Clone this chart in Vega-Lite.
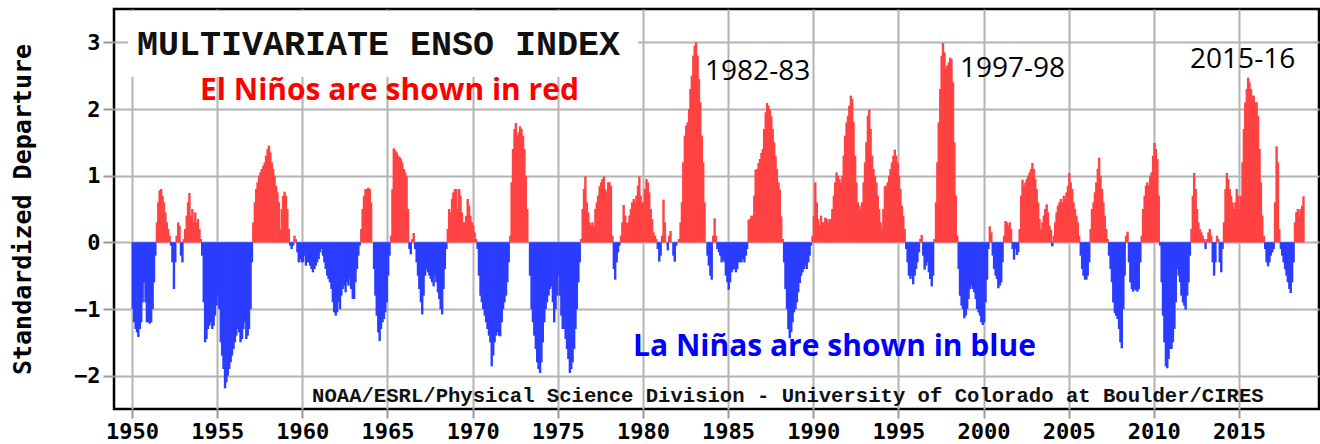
{
"$schema": "https://vega.github.io/schema/vega-lite/v6.json",
"width": 1205, "height": 400,
"autosize": {"type": "none"},
"padding": {"left": 114, "top": 9, "right": 1, "bottom": 35},
"background": "white",
"config": {
 "view": {"stroke": "#000", "strokeWidth": 2.5},
 "axis": {"gridColor": "#b3b3b3", "gridWidth": 2, "gridOpacity": 1, "tickColor": "#999", "tickWidth": 2, "domain": false, "labelFont": "DejaVu Sans Mono", "labelFontWeight": "bold", "labelColor": "#000"}
},
"layer": [
 {
  "data": {"values": [{}]},
  "mark": {"type": "rect", "color": "white"},
  "encoding": {"x": {"datum": 1949.77}, "x2": {"datum": 1979.71}, "y": {"datum": 2.48}, "y2": {"datum": 3.47}}
 },
 {
  "data": {"values": [
{"t":1950.04,"v":-1.0},{"t":1950.12,"v":-1.2},{"t":1950.21,"v":-1.3},{"t":1950.29,"v":-1.35},{"t":1950.37,"v":-1.42},{"t":1950.46,"v":-1.3},{"t":1950.54,"v":-1.2},{"t":1950.62,"v":-0.9},{"t":1950.71,"v":-0.6},{"t":1950.79,"v":-0.9},{"t":1950.87,"v":-1.2},{"t":1950.96,"v":-1.2},
{"t":1951.04,"v":-1.22},{"t":1951.12,"v":-1.2},{"t":1951.21,"v":-1.0},{"t":1951.29,"v":-0.6},{"t":1951.37,"v":-0.2},{"t":1951.46,"v":0.3},{"t":1951.54,"v":0.6},{"t":1951.62,"v":0.78},{"t":1951.71,"v":0.8},{"t":1951.79,"v":0.7},{"t":1951.87,"v":0.6},{"t":1951.96,"v":0.45},
{"t":1952.04,"v":0.3},{"t":1952.12,"v":0.2},{"t":1952.21,"v":0.1},{"t":1952.29,"v":-0.05},{"t":1952.37,"v":-0.3},{"t":1952.46,"v":-0.7},{"t":1952.54,"v":-0.3},{"t":1952.62,"v":0.1},{"t":1952.71,"v":0.3},{"t":1952.79,"v":0.25},{"t":1952.87,"v":-0.2},{"t":1952.96,"v":-0.3},
{"t":1953.04,"v":0.05},{"t":1953.12,"v":0.2},{"t":1953.21,"v":0.4},{"t":1953.29,"v":0.6},{"t":1953.37,"v":0.74},{"t":1953.46,"v":0.4},{"t":1953.54,"v":0.5},{"t":1953.62,"v":0.3},{"t":1953.71,"v":0.45},{"t":1953.79,"v":0.3},{"t":1953.87,"v":0.35},{"t":1953.96,"v":0.2},
{"t":1954.04,"v":0.05},{"t":1954.12,"v":-0.2},{"t":1954.21,"v":-0.9},{"t":1954.29,"v":-1.5},{"t":1954.37,"v":-1.45},{"t":1954.46,"v":-1.3},{"t":1954.54,"v":-1.25},{"t":1954.62,"v":-1.2},{"t":1954.71,"v":-1.3},{"t":1954.79,"v":-1.25},{"t":1954.87,"v":-1.1},{"t":1954.96,"v":-0.95},
{"t":1955.04,"v":-0.8},{"t":1955.12,"v":-1.0},{"t":1955.21,"v":-1.5},{"t":1955.29,"v":-1.7},{"t":1955.37,"v":-1.9},{"t":1955.46,"v":-2.19},{"t":1955.54,"v":-2.1},{"t":1955.62,"v":-2.0},{"t":1955.71,"v":-1.9},{"t":1955.79,"v":-1.8},{"t":1955.87,"v":-1.7},{"t":1955.96,"v":-1.6},
{"t":1956.04,"v":-1.5},{"t":1956.12,"v":-1.4},{"t":1956.21,"v":-1.3},{"t":1956.29,"v":-1.35},{"t":1956.37,"v":-1.5},{"t":1956.46,"v":-1.45},{"t":1956.54,"v":-1.3},{"t":1956.62,"v":-1.2},{"t":1956.71,"v":-1.45},{"t":1956.79,"v":-1.4},{"t":1956.87,"v":-1.3},{"t":1956.96,"v":-1.0},
{"t":1957.04,"v":-0.3},{"t":1957.12,"v":0.3},{"t":1957.21,"v":0.6},{"t":1957.29,"v":0.8},{"t":1957.37,"v":0.9},{"t":1957.46,"v":1.0},{"t":1957.54,"v":1.05},{"t":1957.62,"v":1.1},{"t":1957.71,"v":1.15},{"t":1957.79,"v":1.2},{"t":1957.87,"v":1.3},{"t":1957.96,"v":1.4},
{"t":1958.04,"v":1.45},{"t":1958.12,"v":1.35},{"t":1958.21,"v":1.2},{"t":1958.29,"v":1.1},{"t":1958.37,"v":1.0},{"t":1958.46,"v":0.85},{"t":1958.54,"v":0.75},{"t":1958.62,"v":0.6},{"t":1958.71,"v":0.2},{"t":1958.79,"v":0.5},{"t":1958.87,"v":0.7},{"t":1958.96,"v":0.76},
{"t":1959.04,"v":0.7},{"t":1959.12,"v":0.5},{"t":1959.21,"v":0.2},{"t":1959.29,"v":-0.05},{"t":1959.37,"v":-0.1},{"t":1959.46,"v":-0.05},{"t":1959.54,"v":0.1},{"t":1959.62,"v":0.05},{"t":1959.71,"v":-0.15},{"t":1959.79,"v":-0.3},{"t":1959.87,"v":-0.25},{"t":1959.96,"v":-0.3},
{"t":1960.04,"v":-0.3},{"t":1960.12,"v":-0.2},{"t":1960.21,"v":-0.35},{"t":1960.29,"v":-0.3},{"t":1960.37,"v":-0.3},{"t":1960.46,"v":-0.35},{"t":1960.54,"v":-0.4},{"t":1960.62,"v":-0.45},{"t":1960.71,"v":-0.4},{"t":1960.79,"v":-0.35},{"t":1960.87,"v":-0.3},{"t":1960.96,"v":-0.25},
{"t":1961.04,"v":-0.15},{"t":1961.12,"v":-0.1},{"t":1961.21,"v":-0.2},{"t":1961.29,"v":-0.3},{"t":1961.37,"v":-0.4},{"t":1961.46,"v":-0.5},{"t":1961.54,"v":-0.55},{"t":1961.62,"v":-0.6},{"t":1961.71,"v":-0.7},{"t":1961.79,"v":-0.9},{"t":1961.87,"v":-1.05},{"t":1961.96,"v":-1.1},
{"t":1962.04,"v":-1.05},{"t":1962.12,"v":-0.9},{"t":1962.21,"v":-1.0},{"t":1962.29,"v":-0.8},{"t":1962.37,"v":-0.7},{"t":1962.46,"v":-0.65},{"t":1962.54,"v":-0.75},{"t":1962.62,"v":-0.6},{"t":1962.71,"v":-0.65},{"t":1962.79,"v":-0.55},{"t":1962.87,"v":-0.7},{"t":1962.96,"v":-0.85},
{"t":1963.04,"v":-0.85},{"t":1963.12,"v":-0.6},{"t":1963.21,"v":-0.4},{"t":1963.29,"v":-0.2},{"t":1963.37,"v":-0.05},{"t":1963.46,"v":0.2},{"t":1963.54,"v":0.5},{"t":1963.62,"v":0.7},{"t":1963.71,"v":0.8},{"t":1963.79,"v":0.8},{"t":1963.87,"v":0.82},{"t":1963.96,"v":0.8},
{"t":1964.04,"v":0.6},{"t":1964.12,"v":0.0},{"t":1964.21,"v":-0.4},{"t":1964.29,"v":-0.8},{"t":1964.37,"v":-1.1},{"t":1964.46,"v":-1.35},{"t":1964.54,"v":-1.48},{"t":1964.62,"v":-1.3},{"t":1964.71,"v":-1.2},{"t":1964.79,"v":-1.15},{"t":1964.87,"v":-1.05},{"t":1964.96,"v":-0.9},
{"t":1965.04,"v":-0.5},{"t":1965.12,"v":-0.2},{"t":1965.21,"v":0.1},{"t":1965.29,"v":0.8},{"t":1965.37,"v":1.41},{"t":1965.46,"v":1.38},{"t":1965.54,"v":1.35},{"t":1965.62,"v":1.3},{"t":1965.71,"v":1.28},{"t":1965.79,"v":1.25},{"t":1965.87,"v":1.2},{"t":1965.96,"v":1.1},
{"t":1966.04,"v":1.05},{"t":1966.12,"v":1.0},{"t":1966.21,"v":0.5},{"t":1966.29,"v":-0.1},{"t":1966.37,"v":-0.18},{"t":1966.46,"v":0.05},{"t":1966.54,"v":0.14},{"t":1966.62,"v":-0.1},{"t":1966.71,"v":-0.3},{"t":1966.79,"v":-0.5},{"t":1966.87,"v":-0.7},{"t":1966.96,"v":-0.9},
{"t":1967.04,"v":-1.08},{"t":1967.12,"v":-0.8},{"t":1967.21,"v":-0.5},{"t":1967.29,"v":-0.4},{"t":1967.37,"v":-0.45},{"t":1967.46,"v":-0.5},{"t":1967.54,"v":-0.55},{"t":1967.62,"v":-0.6},{"t":1967.71,"v":-0.66},{"t":1967.79,"v":-0.5},{"t":1967.87,"v":-0.6},{"t":1967.96,"v":-0.75},
{"t":1968.04,"v":-0.85},{"t":1968.12,"v":-1.0},{"t":1968.21,"v":-1.08},{"t":1968.29,"v":-0.7},{"t":1968.37,"v":-0.4},{"t":1968.46,"v":-0.1},{"t":1968.54,"v":0.2},{"t":1968.62,"v":0.5},{"t":1968.71,"v":0.45},{"t":1968.79,"v":0.65},{"t":1968.87,"v":0.75},{"t":1968.96,"v":0.8},
{"t":1969.04,"v":0.8},{"t":1969.12,"v":0.5},{"t":1969.21,"v":0.8},{"t":1969.29,"v":0.7},{"t":1969.37,"v":0.45},{"t":1969.46,"v":0.3},{"t":1969.54,"v":0.3},{"t":1969.62,"v":0.4},{"t":1969.71,"v":0.65},{"t":1969.79,"v":0.55},{"t":1969.87,"v":0.4},{"t":1969.96,"v":0.3},
{"t":1970.04,"v":0.25},{"t":1970.12,"v":0.15},{"t":1970.21,"v":0.05},{"t":1970.29,"v":-0.1},{"t":1970.37,"v":-0.5},{"t":1970.46,"v":-0.8},{"t":1970.54,"v":-0.9},{"t":1970.62,"v":-1.0},{"t":1970.71,"v":-1.1},{"t":1970.79,"v":-1.2},{"t":1970.87,"v":-1.3},{"t":1970.96,"v":-1.4},
{"t":1971.04,"v":-1.5},{"t":1971.12,"v":-1.86},{"t":1971.21,"v":-1.7},{"t":1971.29,"v":-1.5},{"t":1971.37,"v":-1.4},{"t":1971.46,"v":-1.35},{"t":1971.54,"v":-1.4},{"t":1971.62,"v":-1.41},{"t":1971.71,"v":-1.2},{"t":1971.79,"v":-1.0},{"t":1971.87,"v":-0.9},{"t":1971.96,"v":-0.8},
{"t":1972.04,"v":-0.6},{"t":1972.12,"v":-0.3},{"t":1972.21,"v":0.1},{"t":1972.29,"v":0.9},{"t":1972.37,"v":1.4},{"t":1972.46,"v":1.7},{"t":1972.54,"v":1.79},{"t":1972.62,"v":1.6},{"t":1972.71,"v":1.65},{"t":1972.79,"v":1.74},{"t":1972.87,"v":1.7},{"t":1972.96,"v":1.6},
{"t":1973.04,"v":1.4},{"t":1973.12,"v":1.0},{"t":1973.21,"v":0.5},{"t":1973.29,"v":0.0},{"t":1973.37,"v":-0.5},{"t":1973.46,"v":-1.0},{"t":1973.54,"v":-1.2},{"t":1973.62,"v":-1.4},{"t":1973.71,"v":-1.6},{"t":1973.79,"v":-1.8},{"t":1973.87,"v":-1.9},{"t":1973.96,"v":-1.96},
{"t":1974.04,"v":-1.8},{"t":1974.12,"v":-1.5},{"t":1974.21,"v":-1.2},{"t":1974.29,"v":-1.0},{"t":1974.37,"v":-0.9},{"t":1974.46,"v":-0.8},{"t":1974.54,"v":-0.7},{"t":1974.62,"v":-0.66},{"t":1974.71,"v":-0.9},{"t":1974.79,"v":-1.2},{"t":1974.87,"v":-1.0},{"t":1974.96,"v":-0.8},
{"t":1975.04,"v":-0.5},{"t":1975.12,"v":-0.8},{"t":1975.21,"v":-1.1},{"t":1975.29,"v":-1.3},{"t":1975.37,"v":-1.3},{"t":1975.46,"v":-1.45},{"t":1975.54,"v":-1.6},{"t":1975.62,"v":-1.75},{"t":1975.71,"v":-1.96},{"t":1975.79,"v":-1.9},{"t":1975.87,"v":-1.8},{"t":1975.96,"v":-1.6},
{"t":1976.04,"v":-1.3},{"t":1976.12,"v":-1.0},{"t":1976.21,"v":-0.6},{"t":1976.29,"v":-0.3},{"t":1976.37,"v":0.05},{"t":1976.46,"v":0.5},{"t":1976.54,"v":0.8},{"t":1976.62,"v":0.99},{"t":1976.71,"v":0.6},{"t":1976.79,"v":0.45},{"t":1976.87,"v":0.3},{"t":1976.96,"v":0.25},
{"t":1977.04,"v":0.3},{"t":1977.12,"v":0.24},{"t":1977.21,"v":0.5},{"t":1977.29,"v":0.6},{"t":1977.37,"v":0.7},{"t":1977.46,"v":0.84},{"t":1977.54,"v":0.9},{"t":1977.62,"v":0.95},{"t":1977.71,"v":0.99},{"t":1977.79,"v":0.8},{"t":1977.87,"v":0.75},{"t":1977.96,"v":0.9},
{"t":1978.04,"v":0.9},{"t":1978.12,"v":0.85},{"t":1978.21,"v":0.1},{"t":1978.29,"v":-0.4},{"t":1978.37,"v":-0.56},{"t":1978.46,"v":-0.3},{"t":1978.54,"v":-0.15},{"t":1978.62,"v":-0.05},{"t":1978.71,"v":0.1},{"t":1978.79,"v":0.3},{"t":1978.87,"v":0.56},{"t":1978.96,"v":0.4},
{"t":1979.04,"v":0.29},{"t":1979.12,"v":0.3},{"t":1979.21,"v":0.4},{"t":1979.29,"v":0.5},{"t":1979.37,"v":0.6},{"t":1979.46,"v":0.65},{"t":1979.54,"v":0.6},{"t":1979.62,"v":0.7},{"t":1979.71,"v":0.85},{"t":1979.79,"v":0.99},{"t":1979.87,"v":0.7},{"t":1979.96,"v":0.6},
{"t":1980.04,"v":0.6},{"t":1980.12,"v":0.8},{"t":1980.21,"v":0.95},{"t":1980.29,"v":0.9},{"t":1980.37,"v":0.75},{"t":1980.46,"v":0.5},{"t":1980.54,"v":0.35},{"t":1980.62,"v":0.15},{"t":1980.71,"v":0.1},{"t":1980.79,"v":0.05},{"t":1980.87,"v":-0.1},{"t":1980.96,"v":-0.29},
{"t":1981.04,"v":-0.2},{"t":1981.12,"v":0.1},{"t":1981.21,"v":0.64},{"t":1981.29,"v":0.3},{"t":1981.37,"v":0.0},{"t":1981.46,"v":-0.12},{"t":1981.54,"v":0.1},{"t":1981.62,"v":0.17},{"t":1981.71,"v":0.0},{"t":1981.79,"v":-0.2},{"t":1981.87,"v":-0.29},{"t":1981.96,"v":-0.05},
{"t":1982.04,"v":0.0},{"t":1982.12,"v":0.05},{"t":1982.21,"v":0.3},{"t":1982.29,"v":0.6},{"t":1982.37,"v":1.2},{"t":1982.46,"v":1.6},{"t":1982.54,"v":1.75},{"t":1982.62,"v":1.8},{"t":1982.71,"v":2.0},{"t":1982.79,"v":2.3},{"t":1982.87,"v":2.5},{"t":1982.96,"v":2.8},
{"t":1983.04,"v":2.95},{"t":1983.12,"v":3.0},{"t":1983.21,"v":2.8},{"t":1983.29,"v":2.45},{"t":1983.37,"v":2.1},{"t":1983.46,"v":1.6},{"t":1983.54,"v":1.2},{"t":1983.62,"v":0.6},{"t":1983.71,"v":0.0},{"t":1983.79,"v":-0.2},{"t":1983.87,"v":-0.35},{"t":1983.96,"v":-0.5},
{"t":1984.04,"v":-0.56},{"t":1984.12,"v":0.1},{"t":1984.21,"v":0.36},{"t":1984.29,"v":0.1},{"t":1984.37,"v":-0.1},{"t":1984.46,"v":-0.15},{"t":1984.54,"v":-0.2},{"t":1984.62,"v":-0.3},{"t":1984.71,"v":-0.26},{"t":1984.79,"v":-0.3},{"t":1984.87,"v":-0.5},{"t":1984.96,"v":-0.6},
{"t":1985.04,"v":-0.71},{"t":1985.12,"v":-0.6},{"t":1985.21,"v":-0.45},{"t":1985.29,"v":-0.41},{"t":1985.37,"v":-0.4},{"t":1985.46,"v":-0.45},{"t":1985.54,"v":-0.4},{"t":1985.62,"v":-0.3},{"t":1985.71,"v":-0.3},{"t":1985.79,"v":-0.3},{"t":1985.87,"v":-0.25},{"t":1985.96,"v":-0.3},
{"t":1986.04,"v":-0.2},{"t":1986.12,"v":-0.1},{"t":1986.21,"v":0.34},{"t":1986.29,"v":0.35},{"t":1986.37,"v":0.4},{"t":1986.46,"v":0.4},{"t":1986.54,"v":0.7},{"t":1986.62,"v":1.09},{"t":1986.71,"v":1.1},{"t":1986.79,"v":1.19},{"t":1986.87,"v":1.25},{"t":1986.96,"v":1.34},
{"t":1987.04,"v":1.4},{"t":1987.12,"v":1.7},{"t":1987.21,"v":1.95},{"t":1987.29,"v":2.09},{"t":1987.37,"v":2.05},{"t":1987.46,"v":2.0},{"t":1987.54,"v":1.89},{"t":1987.62,"v":1.7},{"t":1987.71,"v":1.5},{"t":1987.79,"v":1.29},{"t":1987.87,"v":1.1},{"t":1987.96,"v":0.9},
{"t":1988.04,"v":0.79},{"t":1988.12,"v":0.39},{"t":1988.21,"v":0.05},{"t":1988.29,"v":-0.3},{"t":1988.37,"v":-0.7},{"t":1988.46,"v":-1.0},{"t":1988.54,"v":-1.3},{"t":1988.62,"v":-1.44},{"t":1988.71,"v":-1.35},{"t":1988.79,"v":-1.2},{"t":1988.87,"v":-1.05},{"t":1988.96,"v":-1.0},
{"t":1989.04,"v":-0.9},{"t":1989.12,"v":-0.75},{"t":1989.21,"v":-0.61},{"t":1989.29,"v":-0.5},{"t":1989.37,"v":-0.45},{"t":1989.46,"v":-0.4},{"t":1989.54,"v":-0.35},{"t":1989.62,"v":-0.4},{"t":1989.71,"v":-0.3},{"t":1989.79,"v":-0.2},{"t":1989.87,"v":-0.05},{"t":1989.96,"v":0.1},
{"t":1990.04,"v":0.4},{"t":1990.12,"v":0.9},{"t":1990.21,"v":0.6},{"t":1990.29,"v":0.35},{"t":1990.37,"v":0.25},{"t":1990.46,"v":0.4},{"t":1990.54,"v":0.3},{"t":1990.62,"v":0.3},{"t":1990.71,"v":0.37},{"t":1990.79,"v":0.35},{"t":1990.87,"v":0.3},{"t":1990.96,"v":0.35},
{"t":1991.04,"v":0.35},{"t":1991.12,"v":0.5},{"t":1991.21,"v":0.7},{"t":1991.29,"v":0.9},{"t":1991.37,"v":1.05},{"t":1991.46,"v":1.0},{"t":1991.54,"v":0.95},{"t":1991.62,"v":0.9},{"t":1991.71,"v":1.0},{"t":1991.79,"v":1.3},{"t":1991.87,"v":1.6},{"t":1991.96,"v":1.8},
{"t":1992.04,"v":1.9},{"t":1992.12,"v":2.05},{"t":1992.21,"v":2.2},{"t":1992.29,"v":2.15},{"t":1992.37,"v":1.8},{"t":1992.46,"v":1.3},{"t":1992.54,"v":0.9},{"t":1992.62,"v":0.6},{"t":1992.71,"v":0.55},{"t":1992.79,"v":0.5},{"t":1992.87,"v":0.6},{"t":1992.96,"v":0.9},
{"t":1993.04,"v":1.2},{"t":1993.12,"v":1.5},{"t":1993.21,"v":1.9},{"t":1993.29,"v":1.99},{"t":1993.37,"v":1.7},{"t":1993.46,"v":1.3},{"t":1993.54,"v":1.1},{"t":1993.62,"v":1.0},{"t":1993.71,"v":0.9},{"t":1993.79,"v":0.7},{"t":1993.87,"v":0.5},{"t":1993.96,"v":0.3},
{"t":1994.04,"v":0.19},{"t":1994.12,"v":0.5},{"t":1994.21,"v":0.84},{"t":1994.29,"v":0.85},{"t":1994.37,"v":0.9},{"t":1994.46,"v":1.0},{"t":1994.54,"v":1.1},{"t":1994.62,"v":1.2},{"t":1994.71,"v":1.3},{"t":1994.79,"v":1.39},{"t":1994.87,"v":1.3},{"t":1994.96,"v":1.2},
{"t":1995.04,"v":1.0},{"t":1995.12,"v":0.8},{"t":1995.21,"v":0.55},{"t":1995.29,"v":0.4},{"t":1995.37,"v":0.2},{"t":1995.46,"v":-0.1},{"t":1995.54,"v":-0.3},{"t":1995.62,"v":-0.5},{"t":1995.71,"v":-0.55},{"t":1995.79,"v":-0.5},{"t":1995.87,"v":-0.63},{"t":1995.96,"v":-0.5},
{"t":1996.04,"v":-0.4},{"t":1996.12,"v":-0.3},{"t":1996.21,"v":-0.15},{"t":1996.29,"v":0.05},{"t":1996.37,"v":0.11},{"t":1996.46,"v":-0.2},{"t":1996.54,"v":-0.41},{"t":1996.62,"v":-0.35},{"t":1996.71,"v":-0.3},{"t":1996.79,"v":-0.45},{"t":1996.87,"v":-0.55},{"t":1996.96,"v":-0.66},
{"t":1997.04,"v":-0.5},{"t":1997.12,"v":0.05},{"t":1997.21,"v":0.6},{"t":1997.29,"v":1.2},{"t":1997.37,"v":1.8},{"t":1997.46,"v":2.3},{"t":1997.54,"v":2.8},{"t":1997.62,"v":2.99},{"t":1997.71,"v":2.85},{"t":1997.79,"v":2.6},{"t":1997.87,"v":2.65},{"t":1997.96,"v":2.7},
{"t":1998.04,"v":2.77},{"t":1998.12,"v":2.75},{"t":1998.21,"v":2.4},{"t":1998.29,"v":1.5},{"t":1998.37,"v":0.7},{"t":1998.46,"v":0.1},{"t":1998.54,"v":-0.4},{"t":1998.62,"v":-0.8},{"t":1998.71,"v":-0.95},{"t":1998.79,"v":-1.0},{"t":1998.87,"v":-1.14},{"t":1998.96,"v":-1.1},
{"t":1999.04,"v":-1.0},{"t":1999.12,"v":-0.85},{"t":1999.21,"v":-0.7},{"t":1999.29,"v":-0.65},{"t":1999.37,"v":-0.7},{"t":1999.46,"v":-0.75},{"t":1999.54,"v":-0.85},{"t":1999.62,"v":-1.0},{"t":1999.71,"v":-1.05},{"t":1999.79,"v":-1.1},{"t":1999.87,"v":-1.2},{"t":1999.96,"v":-1.24},
{"t":2000.04,"v":-1.2},{"t":2000.12,"v":-0.9},{"t":2000.21,"v":-0.56},{"t":2000.29,"v":-0.1},{"t":2000.37,"v":0.24},{"t":2000.46,"v":0.15},{"t":2000.54,"v":-0.2},{"t":2000.62,"v":-0.4},{"t":2000.71,"v":-0.5},{"t":2000.79,"v":-0.55},{"t":2000.87,"v":-0.69},{"t":2000.96,"v":-0.65},
{"t":2001.04,"v":-0.6},{"t":2001.12,"v":-0.3},{"t":2001.21,"v":0.1},{"t":2001.29,"v":0.32},{"t":2001.37,"v":0.3},{"t":2001.46,"v":0.25},{"t":2001.54,"v":0.3},{"t":2001.62,"v":0.2},{"t":2001.71,"v":-0.1},{"t":2001.79,"v":-0.26},{"t":2001.87,"v":-0.1},{"t":2001.96,"v":-0.19},
{"t":2002.04,"v":-0.15},{"t":2002.12,"v":0.2},{"t":2002.21,"v":0.7},{"t":2002.29,"v":0.94},{"t":2002.37,"v":0.85},{"t":2002.46,"v":0.9},{"t":2002.54,"v":0.95},{"t":2002.62,"v":1.0},{"t":2002.71,"v":1.05},{"t":2002.79,"v":1.1},{"t":2002.87,"v":1.19},{"t":2002.96,"v":1.1},
{"t":2003.04,"v":0.95},{"t":2003.12,"v":0.8},{"t":2003.21,"v":0.6},{"t":2003.29,"v":0.35},{"t":2003.37,"v":0.19},{"t":2003.46,"v":0.3},{"t":2003.54,"v":0.4},{"t":2003.62,"v":0.5},{"t":2003.71,"v":0.57},{"t":2003.79,"v":0.45},{"t":2003.87,"v":0.25},{"t":2003.96,"v":0.19},
{"t":2004.04,"v":-0.06},{"t":2004.12,"v":0.1},{"t":2004.21,"v":0.3},{"t":2004.29,"v":0.45},{"t":2004.37,"v":0.55},{"t":2004.46,"v":0.6},{"t":2004.54,"v":0.65},{"t":2004.62,"v":0.6},{"t":2004.71,"v":0.7},{"t":2004.79,"v":0.65},{"t":2004.87,"v":0.75},{"t":2004.96,"v":0.85},
{"t":2005.04,"v":1.04},{"t":2005.12,"v":0.9},{"t":2005.21,"v":0.8},{"t":2005.29,"v":0.6},{"t":2005.37,"v":0.5},{"t":2005.46,"v":0.4},{"t":2005.54,"v":0.3},{"t":2005.62,"v":0.1},{"t":2005.71,"v":-0.2},{"t":2005.79,"v":-0.4},{"t":2005.87,"v":-0.5},{"t":2005.96,"v":-0.56},
{"t":2006.04,"v":-0.56},{"t":2006.12,"v":-0.5},{"t":2006.21,"v":-0.3},{"t":2006.29,"v":0.2},{"t":2006.37,"v":0.5},{"t":2006.46,"v":0.6},{"t":2006.54,"v":0.75},{"t":2006.62,"v":0.9},{"t":2006.71,"v":1.1},{"t":2006.79,"v":1.27},{"t":2006.87,"v":1.0},{"t":2006.96,"v":0.8},
{"t":2007.04,"v":0.6},{"t":2007.12,"v":0.4},{"t":2007.21,"v":0.2},{"t":2007.29,"v":0.05},{"t":2007.37,"v":-0.2},{"t":2007.46,"v":-0.4},{"t":2007.54,"v":-0.6},{"t":2007.62,"v":-0.9},{"t":2007.71,"v":-1.06},{"t":2007.79,"v":-1.1},{"t":2007.87,"v":-1.15},{"t":2007.96,"v":-1.3},
{"t":2008.04,"v":-1.5},{"t":2008.12,"v":-1.59},{"t":2008.21,"v":-1.0},{"t":2008.29,"v":-0.5},{"t":2008.37,"v":0.1},{"t":2008.46,"v":0.16},{"t":2008.54,"v":-0.3},{"t":2008.62,"v":-0.6},{"t":2008.71,"v":-0.7},{"t":2008.79,"v":-0.74},{"t":2008.87,"v":-0.7},{"t":2008.96,"v":-0.72},
{"t":2009.04,"v":-0.74},{"t":2009.12,"v":-0.7},{"t":2009.21,"v":-0.3},{"t":2009.29,"v":0.1},{"t":2009.37,"v":0.5},{"t":2009.46,"v":0.7},{"t":2009.54,"v":0.85},{"t":2009.62,"v":0.9},{"t":2009.71,"v":0.85},{"t":2009.79,"v":1.0},{"t":2009.87,"v":1.05},{"t":2009.96,"v":1.3},
{"t":2010.04,"v":1.49},{"t":2010.12,"v":1.4},{"t":2010.21,"v":1.25},{"t":2010.29,"v":0.7},{"t":2010.37,"v":-0.05},{"t":2010.46,"v":-0.6},{"t":2010.54,"v":-1.1},{"t":2010.62,"v":-1.5},{"t":2010.71,"v":-1.86},{"t":2010.79,"v":-1.89},{"t":2010.87,"v":-1.75},{"t":2010.96,"v":-1.6},
{"t":2011.04,"v":-1.6},{"t":2011.12,"v":-1.5},{"t":2011.21,"v":-1.3},{"t":2011.29,"v":-0.9},{"t":2011.37,"v":-0.4},{"t":2011.46,"v":-0.5},{"t":2011.54,"v":-0.6},{"t":2011.62,"v":-0.8},{"t":2011.71,"v":-0.9},{"t":2011.79,"v":-0.95},{"t":2011.87,"v":-1.01},{"t":2011.96,"v":-0.8},
{"t":2012.04,"v":-0.6},{"t":2012.12,"v":-0.2},{"t":2012.21,"v":0.2},{"t":2012.29,"v":0.7},{"t":2012.37,"v":1.04},{"t":2012.46,"v":0.8},{"t":2012.54,"v":0.5},{"t":2012.62,"v":0.3},{"t":2012.71,"v":0.2},{"t":2012.79,"v":0.15},{"t":2012.87,"v":0.1},{"t":2012.96,"v":0.05},
{"t":2013.04,"v":-0.1},{"t":2013.12,"v":0.05},{"t":2013.21,"v":0.15},{"t":2013.29,"v":0.2},{"t":2013.37,"v":0.1},{"t":2013.46,"v":-0.3},{"t":2013.54,"v":-0.5},{"t":2013.62,"v":-0.3},{"t":2013.71,"v":0.1},{"t":2013.79,"v":0.05},{"t":2013.87,"v":-0.3},{"t":2013.96,"v":-0.45},
{"t":2014.04,"v":-0.1},{"t":2014.12,"v":0.3},{"t":2014.21,"v":0.8},{"t":2014.29,"v":1.04},{"t":2014.37,"v":0.95},{"t":2014.46,"v":0.8},{"t":2014.54,"v":0.7},{"t":2014.62,"v":0.6},{"t":2014.71,"v":0.5},{"t":2014.79,"v":0.6},{"t":2014.87,"v":0.8},{"t":2014.96,"v":0.7},
{"t":2015.04,"v":0.5},{"t":2015.12,"v":0.7},{"t":2015.21,"v":1.2},{"t":2015.29,"v":1.7},{"t":2015.37,"v":2.1},{"t":2015.46,"v":2.3},{"t":2015.54,"v":2.47},{"t":2015.62,"v":2.4},{"t":2015.71,"v":2.3},{"t":2015.79,"v":2.2},{"t":2015.87,"v":2.2},{"t":2015.96,"v":2.1},
{"t":2016.04,"v":2.1},{"t":2016.12,"v":1.9},{"t":2016.21,"v":1.4},{"t":2016.29,"v":0.9},{"t":2016.37,"v":0.4},{"t":2016.46,"v":0.1},{"t":2016.54,"v":-0.1},{"t":2016.62,"v":-0.3},{"t":2016.71,"v":-0.36},{"t":2016.79,"v":-0.3},{"t":2016.87,"v":-0.2},{"t":2016.96,"v":-0.15},
{"t":2017.04,"v":-0.1},{"t":2017.12,"v":0.6},{"t":2017.21,"v":1.44},{"t":2017.29,"v":1.2},{"t":2017.37,"v":0.2},{"t":2017.46,"v":-0.1},{"t":2017.54,"v":-0.2},{"t":2017.62,"v":-0.3},{"t":2017.71,"v":-0.4},{"t":2017.79,"v":-0.5},{"t":2017.87,"v":-0.6},{"t":2017.96,"v":-0.7},
{"t":2018.04,"v":-0.76},{"t":2018.12,"v":-0.6},{"t":2018.21,"v":-0.3},{"t":2018.29,"v":0.3},{"t":2018.37,"v":0.45},{"t":2018.46,"v":0.5},{"t":2018.54,"v":0.4},{"t":2018.62,"v":0.5},{"t":2018.71,"v":0.55},{"t":2018.79,"v":0.69}
  ]},
  "mark": {"type": "rule", "strokeWidth": 2.4},
  "encoding": {
   "x": {"field": "t", "type": "quantitative", "scale": {"domain": [1948.94, 2019.7], "nice": false, "zero": false},
         "axis": {"values": [1950,1955,1960,1965,1970,1975,1980,1985,1990,1995,2000,2005,2010,2015], "format": "d", "title": null, "grid": true, "tickSize": 9, "labelPadding": 3, "labelFontSize": 22}},
   "y": {"field": "v", "type": "quantitative", "scale": {"domain": [-2.5, 3.5], "nice": false, "zero": false},
         "axis": {"values": [-2,-1,0,1,2,3], "format": "d", "grid": true, "tickSize": 11, "labelPadding": 3, "labelFontSize": 22,
                  "title": "Standardized Departure", "titleFont": "DejaVu Sans Mono", "titleFontSize": 25, "titleFontWeight": "bold", "titleColor": "#000",
                  "titleX": -92, "titleY": 200, "titleAngle": -90, "titleAlign": "center", "titleBaseline": "middle"}},
   "y2": {"datum": 0},
   "color": {"condition": {"test": "datum.v >= 0", "value": "#ff4242"}, "value": "#2b3dff"}
  }
 },
 {
  "data": {"values": [{}]},
  "mark": {"type": "text", "text": "MULTIVARIATE ENSO INDEX", "font": "Liberation Mono", "fontWeight": "bold", "fontSize": 35, "align": "left", "baseline": "alphabetic", "color": "#111"},
  "encoding": {"x": {"datum": 1950.29}, "y": {"datum": 2.81}}
 },
 {
  "data": {"values": [{}]},
  "mark": {"type": "text", "text": "El Niños are shown in red", "font": "Open Sans", "fontWeight": "bold", "fontSize": 30, "align": "left", "baseline": "alphabetic", "color": "#ff0000"},
  "encoding": {"x": {"datum": 1953.99}, "y": {"datum": 2.14}}
 },
 {
  "data": {"values": [{}]},
  "mark": {"type": "text", "text": "La Niñas are shown in blue", "font": "Open Sans", "fontWeight": "bold", "fontSize": 30, "align": "left", "baseline": "alphabetic", "color": "#0000ff"},
  "encoding": {"x": {"datum": 1979.42}, "y": {"datum": -1.71}}
 },
 {
  "data": {"values": [{}]},
  "mark": {"type": "text", "text": "1982-83", "font": "Open Sans", "fontSize": 28, "align": "left", "baseline": "alphabetic", "color": "#000"},
  "encoding": {"x": {"datum": 1983.65}, "y": {"datum": 2.44}}
 },
 {
  "data": {"values": [{}]},
  "mark": {"type": "text", "text": "1997-98", "font": "Open Sans", "fontSize": 28, "align": "left", "baseline": "alphabetic", "color": "#000"},
  "encoding": {"x": {"datum": 1998.62}, "y": {"datum": 2.48}}
 },
 {
  "data": {"values": [{}]},
  "mark": {"type": "text", "text": "2015-16", "font": "Open Sans", "fontSize": 28, "align": "left", "baseline": "alphabetic", "color": "#000"},
  "encoding": {"x": {"datum": 2012.13}, "y": {"datum": 2.62}}
 },
 {
  "data": {"values": [{}]},
  "mark": {"type": "text", "text": "NOAA/ESRL/Physical Science Division - University of Colorado at Boulder/CIRES", "font": "Liberation Mono", "fontWeight": "bold", "fontSize": 20.6, "align": "left", "baseline": "alphabetic", "color": "#111"},
  "encoding": {"x": {"datum": 1960.57}, "y": {"datum": -2.39}}
 }
]
}
